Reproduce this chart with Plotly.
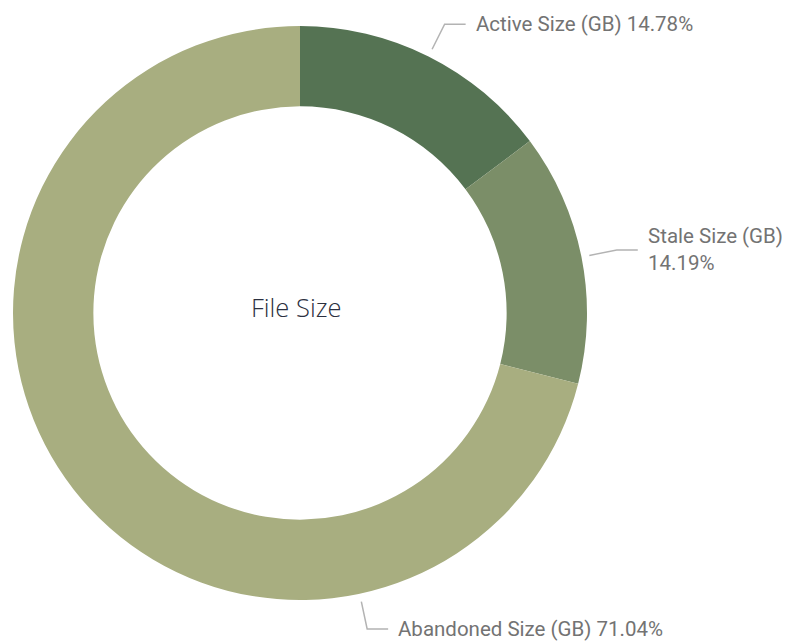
import math
import plotly.graph_objects as go

# ---- data ----
categories = ["Active Size (GB)", "Stale Size (GB)", "Abandoned Size (GB)"]
percent_values = [14.78, 14.19, 71.04]
center_title = "File Size"

# ---- style ----
colors = ["#557353", "#7b8e68", "#a8ae80"]
PAGE_OFF = 8                       # default body margin of the html page
W, H = 790 - PAGE_OFF, 642 - PAGE_OFF
CX, CY, R = 300 - PAGE_OFF, 313 - PAGE_OFF, 287   # pie geometry in pixels
label_angle_override = {2: 168.0}  # Power BI style placement for the big slice
label_linebreak = {1: True}

def px(x):
    return x / W

def py(y):
    return 1 - y / H

fig = go.Figure()
fig.add_trace(go.Pie(
    labels=categories,
    values=percent_values,
    sort=False,
    direction="clockwise",
    rotation=0,
    hole=0.72,
    marker=dict(colors=colors, line=dict(width=0)),
    textinfo="none",
    hoverinfo="label+percent",
    showlegend=False,
    domain=dict(x=[px(CX - R), px(CX + R)], y=[py(CY + R), py(CY - R)]),
))

total = sum(percent_values)
cum = 0.0
shapes = []
annotations = []
for i, (cat, v) in enumerate(zip(categories, percent_values)):
    mid = (cum + v / 2) / total * 360.0
    cum += v
    ang = label_angle_override.get(i, mid)
    a = math.radians(ang)
    sx, sy = CX + (R + 8) * math.sin(a), CY - (R + 8) * math.cos(a)
    ex, ey = CX + (R + 36) * math.sin(a), CY - (R + 36) * math.cos(a)
    side = 1 if math.sin(a) >= 0 else -1
    hx = ex + side * 21
    shapes.append(dict(
        type="path", xref="paper", yref="paper",
        path=f"M {px(sx)} {py(sy)} L {px(ex)} {py(ey)} L {px(hx)} {py(ey)}",
        line=dict(color="#b3b3b3", width=1.5),
    ))
    sep = "<br>" if label_linebreak.get(i) else " "
    annotations.append(dict(
        x=px(hx + side * 8), y=py(ey), xref="paper", yref="paper",
        text=f"{cat}{sep}{v:.2f}%", showarrow=False,
        xanchor="left" if side > 0 else "right", yanchor="middle", align="left",
        font=dict(family="Roboto", size=20.5, color="#737373"),
    ))

annotations.append(dict(
    x=px(CX - 4), y=py(CY - 6), xref="paper", yref="paper", text=center_title,
    showarrow=False, xanchor="center", yanchor="middle",
    font=dict(family="Open Sans", size=25.5, color="#2c3040", weight=300),
))

fig.update_layout(
    width=W, height=H,
    margin=dict(l=0, r=0, t=0, b=0),
    paper_bgcolor="white", plot_bgcolor="white",
    shapes=shapes, annotations=annotations,
)
fig.write_html("out.html")
